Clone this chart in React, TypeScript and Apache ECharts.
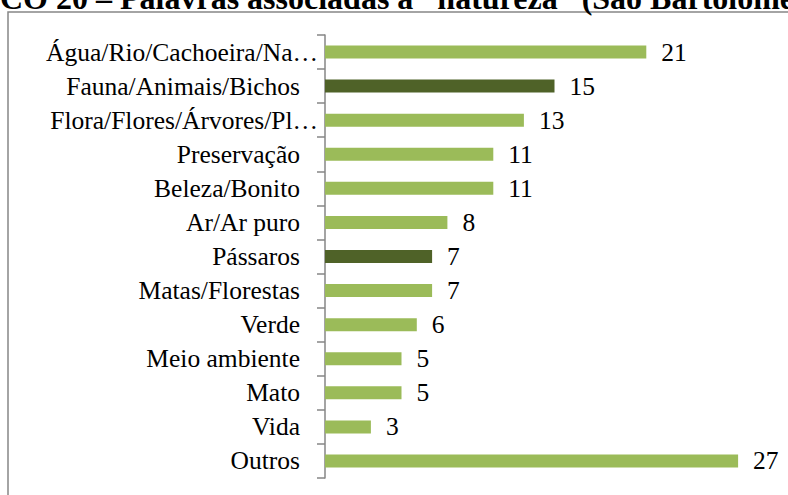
import React, { useEffect, useRef } from "react";
import * as echarts from "echarts";

const categories = [
  "Água/Rio/Cachoeira/Na…",
  "Fauna/Animais/Bichos",
  "Flora/Flores/Árvores/Pl…",
  "Preservação",
  "Beleza/Bonito",
  "Ar/Ar puro",
  "Pássaros",
  "Matas/Florestas",
  "Verde",
  "Meio ambiente",
  "Mato",
  "Vida",
  "Outros",
];
const values = [21, 15, 13, 11, 11, 8, 7, 7, 6, 5, 5, 3, 27];
const highlighted = ["Fauna/Animais/Bichos", "Pássaros"];
const titleText = "CO 20 – Palavras associadas à “natureza” (São Bartolomeu)";

const FONT = "Liberation Serif";

export default function App() {
  const ref = useRef<HTMLDivElement>(null);
  useEffect(() => {
    if (!ref.current) return;
    const chart = echarts.init(ref.current, null, { renderer: "svg" });
    chart.setOption({
      animation: false,
      backgroundColor: "#ffffff",
      grid: { left: 325, top: 35, width: 459, height: 443, containLabel: false },
      xAxis: {
        type: "value",
        min: 0,
        max: 30,
        show: false,
      },
      yAxis: {
        type: "category",
        data: categories,
        inverse: true,
        axisLine: { show: true, lineStyle: { color: "#868686", width: 1.5 } },
        axisTick: { show: true, length: 8, lineStyle: { color: "#868686", width: 1.5 } },
        axisLabel: {
          margin: 7,
          formatter: (v: string) => (v.endsWith("…") ? `{t|${v}}` : `{n|${v}}`),
          rich: {
            t: { color: "#000000", fontFamily: FONT, fontSize: 25.5 },
            n: { color: "#000000", fontFamily: FONT, fontSize: 25.5, padding: [0, 18, 0, 0] },
          },
        },
        splitLine: { show: false },
      },
      series: [
        {
          type: "bar",
          barWidth: 13,
          data: values.map((v, i) => ({
            value: v,
            itemStyle: {
              color: highlighted.includes(categories[i]) ? "#4F6228" : "#9BBB59",
            },
          })),
          label: {
            show: true,
            position: "right",
            distance: 15,
            color: "#000000",
            fontFamily: FONT,
            fontSize: 25.5,
          },
        },
      ],
      graphic: [
        {
          type: "rect",
          shape: { x: 8, y: 12, width: 900, height: 600 },
          style: { fill: "none", stroke: "#878787", lineWidth: 1.5 },
          silent: true,
        },
        {
          type: "text",
          x: 0,
          y: 14,
          style: {
            text: titleText,
            font: "bold 32px 'Liberation Serif'",
            fill: "#000000",
            textAlign: "left",
            textVerticalAlign: "bottom",
          },
          silent: true,
        },
      ],
    });
    return () => chart.dispose();
  }, []);
  return (
    <div
      ref={ref}
      style={{ position: "fixed", left: 0, top: 0, width: 788, height: 495 }}
    />
  );
}
